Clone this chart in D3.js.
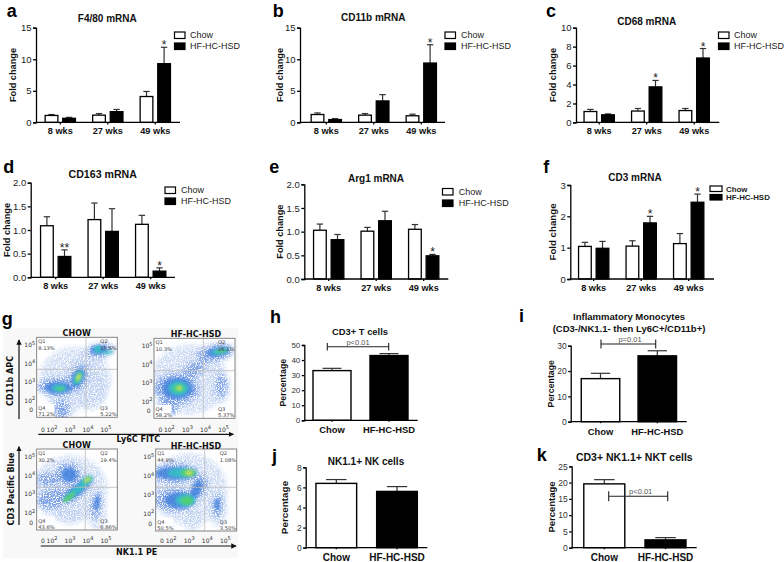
<!DOCTYPE html>
<html><head><meta charset="utf-8">
<script src="https://cdn.jsdelivr.net/npm/d3@7/dist/d3.min.js"></script>
<style>
html,body{margin:0;padding:0;background:#fff}
svg{display:block}
text{font-family:"Liberation Sans",Arial,sans-serif}
.flow text{font-family:"DejaVu Sans",sans-serif}
</style></head><body><svg id="c" width="784" height="562"></svg>
<script>
const weeks = ["8 wks","27 wks","49 wks"];
const series = ["Chow","HF-HC-HSD"];
// panel a-f values: [8wks,27wks,49wks] and upper error limits
const f480Chow=[1.1,1.15,4.1], f480ChowTop=[1.25,1.4,4.9], f480Hf=[0.65,1.7,9.3], f480HfTop=[0.8,2.05,11.9], f480Stars=[null,null,"*"];
const cd11bChow=[1.25,1.15,1.05], cd11bChowTop=[1.5,1.4,1.3], cd11bHf=[0.45,3.4,9.4], cd11bHfTop=[0.6,4.4,12.3], cd11bStars=[null,null,"*"];
const cd68Chow=[1.15,1.2,1.25], cd68ChowTop=[1.37,1.47,1.47], cd68Hf=[0.8,3.75,6.8], cd68HfTop=[0.9,4.43,7.8], cd68Stars=[null,"*","*"];
const cd163Chow=[1.09,1.22,1.12], cd163ChowTop=[1.28,1.57,1.31], cd163Hf=[0.44,0.97,0.13], cd163HfTop=[0.58,1.45,0.2], cd163Stars=["**",null,"*"];
const arg1Chow=[1.03,1.01,1.05], arg1ChowTop=[1.16,1.09,1.15], arg1Hf=[0.83,1.23,0.49], arg1HfTop=[0.94,1.43,0.52], arg1Stars=[null,null,"*"];
const cd3Chow=[1.04,1.05,1.13], cd3ChowTop=[1.17,1.22,1.45], cd3Hf=[0.98,1.79,2.45], cd3HfTop=[1.2,2.0,2.71], cd3Stars=[null,"*","*"];
// panels h-k: [Chow, HF-HC-HSD]
const tCells=[33,43], tCellsTop=[34.5,44.3];
const monocytes=[17,26], monocytesTop=[19.1,28];
const nkCells=[6.4,5.6], nkCellsTop=[6.78,6.08];
const nktCells=[19.6,2.4], nktCellsTop=[20.9,3.1];
// flow plots: blobs [log x, log y, rx, ry (decades), rotation, density level]
const flowChowLy6C=[[3.3,3.2,2.0,1.7,0,0],[2.5,1.6,.8,.7,0,0],[4.2,2.6,.9,1.1,0,0],[4.3,4.4,1.1,.55,-30,0],[3.6,3.9,1.2,.4,-35,0],
 [2.3,2.75,1.15,.5,0,1],[2.55,1.5,.4,.55,0,1],[3.45,3.25,.5,.75,25,1],[4.7,4.75,.8,.32,-5,1],
 [2.35,2.7,.75,.32,0,2],[3.45,3.25,.33,.55,25,2],[4.6,4.75,.45,.25,0,2],
 [2.4,2.68,.42,.2,0,3],[3.46,3.25,.22,.42,25,3],[4.55,4.78,.2,.2,0,3],[5.1,4.62,.3,.08,0,3],
 [2.45,2.65,.22,.11,0,4],[3.47,3.25,.15,.3,25,4],[3.48,3.28,.08,.17,25,5]];
const flowHfLy6C=[[3.1,3.2,2.1,1.9,0,0],[3.5,3.9,1.3,.6,-35,0],[4.8,2.8,.55,.95,0,0],[4.4,4.6,1.2,.55,-10,0],
 [2.4,2.7,1.25,.85,0,1],[1.9,1.7,.6,.5,0,1],[4.9,2.85,.3,.6,0,1],[4.55,4.65,1.0,.45,-15,1],[3.3,3.7,.7,.35,-35,1],
 [2.45,2.72,.85,.58,0,2],[4.7,4.7,.65,.25,-10,2],
 [2.5,2.72,.55,.38,0,3],[4.8,4.72,.5,.14,-10,3],
 [2.52,2.72,.32,.22,0,4],[4.85,4.72,.3,.08,-10,4],[2.55,2.74,.13,.1,0,5]];
const flowChowNk=[[3,3.3,2.1,1.8,0,0],[4.5,2.1,.55,1.0,0,0],[3.0,2.1,.8,.7,0,0],
 [2.9,4.1,.7,.6,0,1],[1.8,3.8,.7,.35,0,1],[2.1,2.8,.95,.55,-15,1],[3.4,3.25,1.1,.42,-38,1],[4.45,2.4,.27,.75,8,1],
 [2.95,4.05,.42,.38,0,2],[3.4,3.25,.95,.28,-38,2],[4.5,2.55,.13,.4,8,2],
 [3.4,3.25,.85,.17,-38,3],[3.95,3.77,.35,.22,-30,3],
 [2.95,2.85,.42,.15,-38,4],[3.95,3.77,.26,.15,-30,4],[3.98,3.8,.13,.08,-30,5]];
const flowHfNk=[[3,3.3,2.1,1.9,0,0],[4.6,2.3,.5,1.0,0,0],[3.2,1.7,.5,.6,0,0],
 [2.2,4.15,1.3,.55,0,1],[2.2,2.75,1.2,.62,0,1],[3.55,3.4,.42,.7,25,1],[4.57,2.4,.25,.65,0,1],
 [2.3,4.15,1.15,.33,0,2],[2.5,2.72,.85,.42,0,2],[3.4,3.3,.25,.5,25,2],[4.55,2.5,.13,.3,0,2],
 [2.6,4.17,.8,.24,0,3],[2.8,2.72,.55,.32,0,3],
 [2.95,4.17,.45,.22,0,4],[2.87,2.7,.35,.24,0,4],[3.0,4.17,.18,.1,0,5]];
const flowTicks=[2,3,4,5];
const flowLevels=["#b9cdf0","#6f97e4","#3f80dc","#33c4c4","#55d468","#ecec48"];
const quadChowLy6C=["8.13%","15.5%","5.22%","71.2%"], quadHfLy6C=["10.3%","26.1%","5.37%","58.2%"];
const quadChowNk=["30.2%","19.4%","6.86%","43.6%"], quadHfNk=["44.9%","1.08%","3.50%","50.5%"];

const svg=d3.select("#c");
const bold=(s,x,y,size,txt,anchor="middle",fill="#111")=>s.append("text").attr("x",x).attr("y",y).attr("font-size",size)
  .attr("font-weight","bold").attr("text-anchor",anchor).attr("fill",fill).text(txt);
const vbold=(s,x,y,size,txt)=>s.append("text").attr("transform",`translate(${x},${y}) rotate(-90)`).attr("font-size",size)
  .attr("font-weight","bold").attr("text-anchor","middle").attr("fill","#111").text(txt);

function styleAxis(g,size,weight,color){
  g.selectAll("path,line").attr("stroke","#000").attr("stroke-width",1.3);
  g.selectAll("text").attr("font-size",size).attr("font-weight",weight).attr("fill",color);
}
function errorBar(g,cx,yv,yt,capW){
  g.append("line").attr("x1",cx).attr("x2",cx).attr("y1",yv).attr("y2",yt).attr("stroke","#333").attr("stroke-width",1.2);
  g.append("line").attr("x1",cx-capW/2).attr("x2",cx+capW/2).attr("y1",yt).attr("y2",yt).attr("stroke","#333").attr("stroke-width",1.2);
}
function legend(s,p){
  series.forEach((n,i)=>{
    s.append("rect").attr("x",p.lx).attr("y",p.ly[i]).attr("width",p.lw).attr("height",p.lh)
      .attr("fill",i?"#000":"#fff").attr("stroke","#000").attr("stroke-width",1.2);
    s.append("text").attr("x",p.tx).attr("y",p.ly[i]+p.lh/2+3).attr("font-size",p.lf||9)
      .attr("font-weight",p.lb?"bold":"normal").attr("fill","#222").text(n);
  });
}
const timePanels=[
 {l:"a",px:6.7,py:16.5,t:"F4/80 mRNA",tx:107.3,ty:21.6,tf:10,ax:36,end:180,y0:122.4,yt:27.7,max:15,ticks:[0,5,10,15],c0:60.3,yl:16.3,v:[f480Chow,f480ChowTop,f480Hf,f480HfTop,f480Stars],lx:174.5,ly:[32,43],lw:10.5,lh:6.5,tx2:190},
 {l:"b",px:272.7,py:16.5,t:"CD11b mRNA",tx:373.3,ty:21,tf:10,ax:300,end:445,y0:122.4,yt:27.7,max:15,ticks:[0,5,10,15],c0:326.3,yl:283,v:[cd11bChow,cd11bChowTop,cd11bHf,cd11bHfTop,cd11bStars],lx:445,ly:[32,43],lw:10.5,lh:6.5,tx2:461},
 {l:"c",px:546,py:16.5,t:"CD68 mRNA",tx:646.7,ty:25.3,tf:10,ax:576,end:719.3,y0:122.4,yt:27.7,max:10,ticks:[0,2,4,6,8,10],c0:599.2,yl:555.7,v:[cd68Chow,cd68ChowTop,cd68Hf,cd68HfTop,cd68Stars],lx:718.5,ly:[32,43],lw:10.5,lh:6.5,tx2:734},
 {l:"d",px:3.3,py:172.7,t:"CD163 mRNA",tx:102.7,ty:178,tf:10.6,ax:30.7,end:175,y0:277.3,yt:182.7,max:2,ticks:[0,.5,1,1.5,2],fmt:".1f",c0:55.7,yl:9.7,v:[cd163Chow,cd163ChowTop,cd163Hf,cd163HfTop,cd163Stars],lx:165,ly:[187,198],lw:10.5,lh:6.5,tx2:181},
 {l:"e",px:269.3,py:172.7,t:"Arg1 mRNA",tx:376,ty:181.6,tf:10,ax:304.3,end:448.3,y0:279,yt:184.3,max:2,ticks:[0,.5,1,1.5,2],fmt:".1f",c0:328.7,yl:283,v:[arg1Chow,arg1ChowTop,arg1Hf,arg1HfTop,arg1Stars],lx:442.5,ly:[188.5,200],lw:10.5,lh:6.5,tx2:458.7},
 {l:"f",px:543.3,py:172.7,t:"CD3 mRNA",tx:635,ty:181,tf:10,ax:570.3,end:714,y0:279,yt:185,max:3,ticks:[0,1,2,3],c0:593.7,yl:556.3,v:[cd3Chow,cd3ChowTop,cd3Hf,cd3HfTop,cd3Stars],lx:710,ly:[186,194.5],lw:12,lh:5.5,tx2:726,lf:7.9,lb:true,yf:9.7}
];
timePanels.forEach(p=>{
  const s=svg.append("g");
  const y=d3.scaleLinear().domain([0,p.max]).range([p.y0,p.yt]);
  const x0=d3.scaleBand().domain(weeks).range([p.c0-23.75,p.c0+2*47.5+23.75]);
  const x1=d3.scaleBand().domain(series).range([0,x0.bandwidth()]).paddingInner(.278).paddingOuter(.489);
  const [cv,ct,hv,ht,st]=p.v;
  weeks.forEach((w,i)=>{
    [[cv,ct],[hv,ht]].forEach(([val,top],j)=>{
      const left=x0(w)+x1(series[j]), bw=x1.bandwidth(), cx=left+bw/2;
      errorBar(s,cx,y(val[i]),y(top[i]),bw/2);
      s.append("rect").attr("x",left).attr("y",y(val[i])).attr("width",bw).attr("height",p.y0-y(val[i]))
        .attr("fill",j?"#000":"#fff").attr("stroke","#000").attr("stroke-width",1.3);
    });
    if(st[i]) s.append("text").attr("x",x0(w)+x1(series[1])+x1.bandwidth()/2).attr("y",y(ht[i])+2)
      .attr("text-anchor","middle").attr("font-size",12).attr("fill","#222").text(st[i]);
  });
  const ya=s.append("g").attr("transform",`translate(${p.ax},0)`)
    .call(d3.axisLeft(y).tickValues(p.ticks).tickSize(3).tickPadding(1.5).tickFormat(d3.format(p.fmt||"d")));
  styleAxis(ya,9.5,"normal","#222");
  const xa=s.append("g").attr("transform",`translate(0,${p.y0})`)
    .call(d3.axisBottom(x0).tickSize(2).tickPadding(3));
  xa.select("path").attr("d",`M${p.ax},0H${p.end}`);
  styleAxis(xa,9.2,"bold","#111");
  bold(s,p.tx,p.ty,p.tf,p.t);
  vbold(s,p.yl,(p.y0+p.yt)/2,p.yf||9.2,"Fold change");
  legend(s,{lx:p.lx,ly:p.ly,lw:p.lw,lh:p.lh,tx:p.tx2,lf:p.lf,lb:p.lb});
  bold(s,p.px,p.py,18,p.l,"start","#000");
});

const cellPanels=[
 {l:"h",llx:270,lly:323,t:["CD3+ T cells"],tx:360,ty:[335],tf:9.4,ax:304.3,end:417.7,y0:420.3,yt:345,max:50,ticks:[0,10,20,30,40,50],cs:[332,389],bw:38,ylx:285.7,yf:8.9,tick:8,cat:9.4,caty:432.5,v:[tCells,tCellsTop],br:{x1:327.3,x2:388.7,y:346.7,h:3.7,txt:"p<0.01",tx:358,ty:345}},
 {l:"i",llx:519,lly:322,t:["Inflammatory Monocytes","(CD3-/NK1.1- then Ly6C+/CD11b+)"],tx:629,ty:[320,331.6],tf:9.5,ax:570.7,end:686.7,y0:421.7,yt:345.7,max:30,ticks:[0,10,20,30],cs:[600.5,657.3],bw:38.5,ylx:554,yf:8.8,tick:8.5,cat:9.4,caty:434.5,v:[monocytes,monocytesTop],br:{x1:601,x2:655.7,y:344,h:4.5,txt:"p=0.01",tx:630,ty:341.5}},
 {l:"j",llx:272,lly:461.7,t:["NK1.1+ NK cells"],tx:366,ty:[465],tf:10,ax:305.7,end:427.3,y0:547.7,yt:467.3,max:8,ticks:[0,2,4,6,8],cs:[336.3,397],bw:40.7,ylx:288,yf:9.9,tick:8.5,cat:10,caty:560.5,v:[nkCells,nkCellsTop]},
 {l:"k",llx:536.7,lly:461,t:["CD3+ NK1.1+ NKT cells"],tx:634.3,ty:[460.6],tf:10.5,ax:571.7,end:696.7,y0:547.7,yt:466.3,max:25,ticks:[0,5,10,15,20,25],cs:[604.3,665.5],bw:41,ylx:554.7,yf:9.5,tick:8.5,cat:10,caty:560.5,v:[nktCells,nktCellsTop],br:{x1:608.7,x2:667.7,y:496.3,h:5,txt:"p<0.01",tx:640.7,ty:493.5}}
];
cellPanels.forEach(p=>{
  const s=svg.append("g");
  const step=p.cs[1]-p.cs[0], pad=1-p.bw/step;
  const x=d3.scaleBand().domain(series).range([p.cs[0]-step/2,p.cs[1]+step/2]).paddingInner(pad).paddingOuter(pad/2);
  const y=d3.scaleLinear().domain([0,p.max]).range([p.y0,p.yt]);
  series.forEach((n,j)=>{
    const left=x(n), bw=x.bandwidth();
    errorBar(s,left+bw/2,y(p.v[0][j]),y(p.v[1][j]),bw/2);
    s.append("rect").attr("x",left).attr("y",y(p.v[0][j])).attr("width",bw).attr("height",p.y0-y(p.v[0][j]))
      .attr("fill",j?"#000":"#fff").attr("stroke","#000").attr("stroke-width",1.4);
  });
  const ya=s.append("g").attr("transform",`translate(${p.ax},0)`).call(d3.axisLeft(y).tickValues(p.ticks).tickSize(2.5).tickPadding(1.5));
  styleAxis(ya,p.tick,"normal","#333");
  const xa=s.append("g").attr("transform",`translate(0,${p.y0})`).call(d3.axisBottom(x).tickSize(1.5).tickPadding(4));
  xa.select("path").attr("d",`M${p.ax},0H${p.end}`);
  styleAxis(xa,p.cat,"bold","#111");
  xa.selectAll("text").attr("y",null).attr("dy",null).attr("transform",`translate(0,${p.caty-p.y0})`);
  p.t.forEach((t,i)=>bold(s,p.tx,p.ty[i],p.tf,t));
  vbold(s,p.ylx,(p.y0+p.yt)/2,p.yf,"Percentage");
  bold(s,p.llx,p.lly,18,p.l,"start","#000");
  if(p.br){
    const b=p.br;
    s.append("path").attr("d",`M${b.x1},${b.y-b.h}V${b.y+b.h}M${b.x1},${b.y}H${b.x2}M${b.x2},${b.y-b.h}V${b.y+b.h}`)
      .attr("fill","none").attr("stroke","#222").attr("stroke-width",1.1);
    s.append("text").attr("x",b.tx).attr("y",b.ty).attr("text-anchor","middle").attr("font-size",7.5).attr("fill","#555").text(b.txt);
  }
});

// Panel g
const defs=svg.append("defs");
defs.append("filter").attr("id","soft").attr("x","-20%").attr("y","-20%").attr("width","140%").attr("height","140%")
  .append("feGaussianBlur").attr("stdDeviation",1.4);
const grain=defs.append("filter").attr("id","grain").attr("x","-20%").attr("y","-20%").attr("width","140%").attr("height","140%")
  .attr("color-interpolation-filters","sRGB");
grain.append("feGaussianBlur").attr("in","SourceGraphic").attr("stdDeviation",2.4).attr("result","b");
grain.append("feTurbulence").attr("type","fractalNoise").attr("baseFrequency",.85).attr("numOctaves",2).attr("seed",4).attr("result","n");
grain.append("feColorMatrix").attr("in","n").attr("type","matrix").attr("values","0 0 0 0 0  0 0 0 0 0  0 0 0 0 0  5 0 0 0 -1.7").attr("result","m");
grain.append("feComposite").attr("in","b").attr("in2","m").attr("operator","in");
const marker=defs.append("marker").attr("id","ah").attr("viewBox","0 0 8 8").attr("refX",7).attr("refY",4)
  .attr("markerWidth",4.5).attr("markerHeight",4.5).attr("orient","auto");
marker.append("path").attr("d","M0,0L8,4L0,8Z").attr("fill","#111");

const g=svg.append("g").attr("class","flow");
g.append("rect").attr("x",3).attr("y",328).attr("width",235).attr("height",230).attr("fill","#f8f8f8");
bold(svg,1.7,325,18,"g","start","#000");

const flowPlots=[
 {title:"CHOW",tx:76.7,ty:335.8,x:36.7,y:337.3,w:80.6,h:80,gx:86,gy:369.3,blobs:flowChowLy6C,q:quadChowLy6C,ticky:431.5},
 {title:"HF-HC-HSD",tx:196,ty:336.5,x:154,y:338.3,w:81,h:80,gx:203.3,gy:370.7,blobs:flowHfLy6C,q:quadHfLy6C,ticky:431.5},
 {title:"CHOW",tx:76.7,ty:448,x:36.7,y:449,w:80.6,h:81,gx:85.3,gy:487.3,blobs:flowChowNk,q:quadChowNk,ticky:542.5},
 {title:"HF-HC-HSD",tx:196,ty:448.7,x:155.7,y:449,w:81,h:82,gx:204.7,gy:487.3,blobs:flowHfNk,q:quadHfNk,ticky:542.5}
];
flowPlots.forEach((p,i)=>{
  const xs=d3.scaleLinear().domain([1.15,5.63]).range([p.x,p.x+p.w]);
  const ys=d3.scaleLinear().domain([1.1,5.43]).range([p.y+p.h,p.y]);
  defs.append("clipPath").attr("id","fc"+i).append("rect").attr("x",p.x).attr("y",p.y).attr("width",p.w).attr("height",p.h);
  const s=g.append("g");
  s.append("rect").attr("x",p.x).attr("y",p.y).attr("width",p.w).attr("height",p.h).attr("fill","#fff");
  const clip=s.append("g").attr("clip-path",`url(#fc${i})`);
  const kx=xs(1)-xs(0), ky=ys(0)-ys(1);
  const drawBlobs=(gr,rows)=>gr.selectAll("ellipse").data(rows).join("ellipse")
    .attr("transform",d=>`translate(${xs(d[0])},${ys(d[1])}) rotate(${d[4]})`)
    .attr("rx",d=>d[2]*kx).attr("ry",d=>d[3]*ky)
    .attr("fill",d=>flowLevels[d[5]]).attr("opacity",d=>d[5]===0?.7:.85);
  drawBlobs(clip.append("g").attr("filter","url(#grain)"),p.blobs.filter(d=>d[5]<2));
  drawBlobs(clip.append("g").attr("filter","url(#soft)"),p.blobs.filter(d=>d[5]>=2));
  // Q4 corner label patch
  s.append("rect").attr("x",p.x+.5).attr("y",p.y+p.h-13.5).attr("width",17).attr("height",13).attr("fill","#fff");
  s.append("path").attr("d",`M${p.gx},${p.y}V${p.y+p.h}M${p.x},${p.gy}H${p.x+p.w}`).attr("stroke","#bbb").attr("stroke-width",.8).attr("fill","none");
  s.append("rect").attr("x",p.x).attr("y",p.y).attr("width",p.w).attr("height",p.h).attr("fill","none").attr("stroke","#777").attr("stroke-width",.9);
  const small=(x,y,t,a="start")=>s.append("text").attr("x",x).attr("y",y).attr("font-size",5.2).attr("text-anchor",a).attr("fill","#444").text(t);
  small(p.x+1.5,p.y+6,"Q1"); small(p.x+1.5,p.y+12.5,p.q[0]);
  small(p.x+p.w-17,p.y+6,"Q2"); small(p.x+p.w-.5,p.y+12.5,p.q[1],"end");
  small(p.x+p.w-17,p.y+p.h-7,"Q3"); small(p.x+p.w-.5,p.y+p.h-1,p.q[2],"end");
  small(p.x+1.5,p.y+p.h-7,"Q4"); small(p.x+1.5,p.y+p.h-1,p.q[3]);
  s.append("text").attr("x",p.tx).attr("y",p.ty).attr("text-anchor","middle").attr("font-size",8).attr("font-weight","600").attr("fill","#111").text(p.title);
  flowTicks.forEach(d=>{
    const tx=s.append("text").attr("x",xs(d)).attr("y",p.ticky).attr("text-anchor","middle").attr("font-size",6).attr("fill","#333");
    tx.append("tspan").text("10"); tx.append("tspan").attr("dy",-2.5).attr("font-size",5).text(d);
    const ty=s.append("text").attr("x",p.x-1.5).attr("y",ys(d)+2).attr("text-anchor","end").attr("font-size",6).attr("fill","#333");
    ty.append("tspan").text("10"); ty.append("tspan").attr("dy",-2.5).attr("font-size",5).text(d);
  });
  s.append("text").attr("x",xs(1.5)).attr("y",p.ticky).attr("text-anchor","middle").attr("font-size",6).attr("fill","#333").text("0");
  s.append("text").attr("x",p.x-3.5).attr("y",ys(1.47)+2).attr("text-anchor","end").attr("font-size",6).attr("fill","#333").text("0");
});
const arrow=(x1,y1,x2,y2)=>g.append("line").attr("x1",x1).attr("y1",y1).attr("x2",x2).attr("y2",y2)
  .attr("stroke","#111").attr("stroke-width",1.2).attr("marker-end","url(#ah)");
arrow(19,419,19,340); arrow(38.3,434.3,233.3,434.3);
arrow(19,525,19,446.7); arrow(40.7,546,236,546);
const flowLab=(x,y,t,rot)=>g.append("text").attr("transform",`translate(${x},${y})${rot?" rotate(-90)":""}`)
  .attr("text-anchor","middle").attr("font-size",8).attr("font-weight","600").attr("fill","#111").text(t);
flowLab(12.5,381,"CD11b APC",true); flowLab(138.3,442,"Ly6C FITC");
flowLab(13.5,489,"CD3 Pacific Blue",true); flowLab(136.7,555.3,"NK1.1 PE");
</script></body></html>
